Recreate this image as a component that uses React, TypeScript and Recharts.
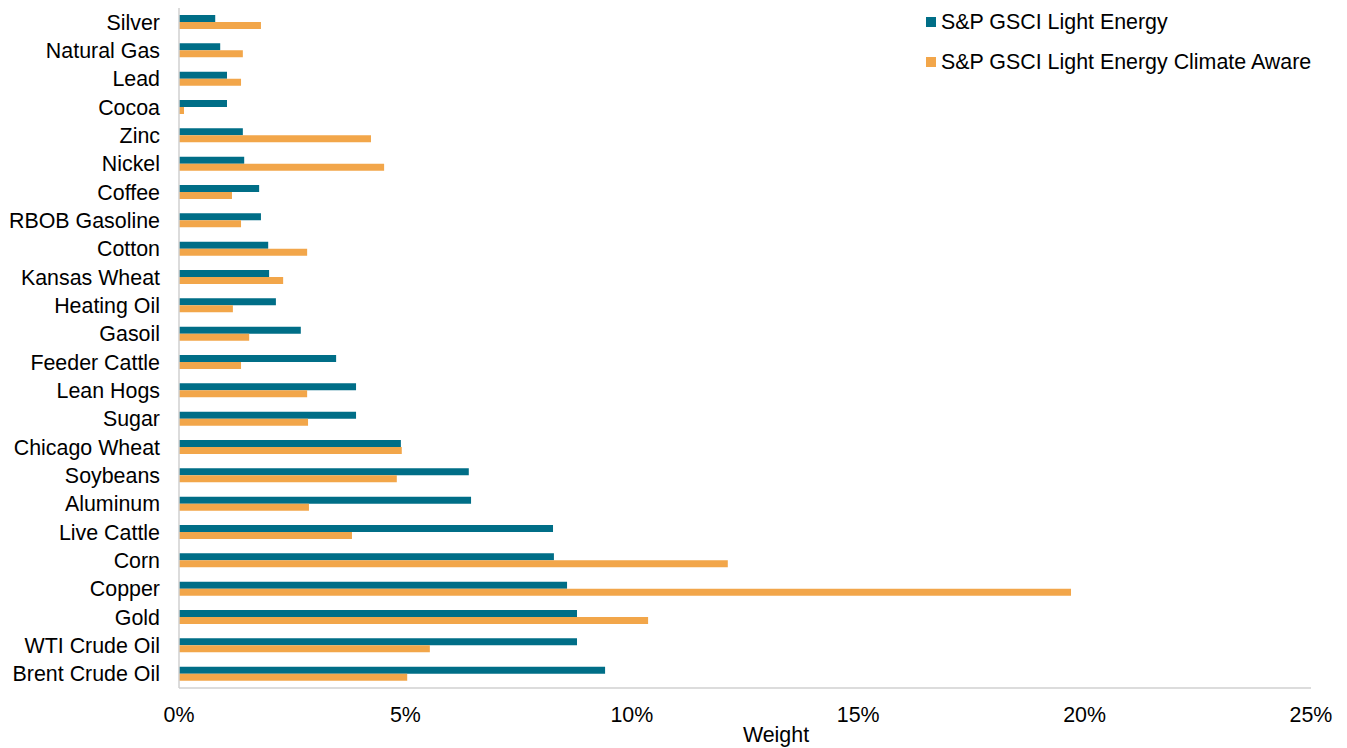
import { BarChart, Bar, XAxis, YAxis, Legend, Label } from "recharts"

const commodities = [
  "Silver", "Natural Gas", "Lead", "Cocoa", "Zinc", "Nickel", "Coffee", "RBOB Gasoline",
  "Cotton", "Kansas Wheat", "Heating Oil", "Gasoil", "Feeder Cattle", "Lean Hogs", "Sugar",
  "Chicago Wheat", "Soybeans", "Aluminum", "Live Cattle", "Corn", "Copper", "Gold",
  "WTI Crude Oil", "Brent Crude Oil",
]

const lightEnergy = [
  0.8, 0.91, 1.06, 1.06, 1.41, 1.44, 1.77, 1.81,
  1.97, 1.99, 2.14, 2.69, 3.47, 3.91, 3.91,
  4.9, 6.4, 6.45, 8.26, 8.28, 8.57, 8.79,
  8.79, 9.41,
]

const climateAware = [
  1.81, 1.41, 1.37, 0.11, 4.24, 4.53, 1.17, 1.37,
  2.83, 2.3, 1.19, 1.55, 1.37, 2.83, 2.85,
  4.92, 4.81, 2.87, 3.82, 12.12, 19.7, 10.36,
  5.54, 5.04,
]

const xTicks = [0, 5, 10, 15, 20, 25]

const seriesNames = ["S&P GSCI Light Energy", "S&P GSCI Light Energy Climate Aware"]
const seriesColors = ["#006E87", "#F2A64A"]

const data = commodities.map((name, i) => ({
  name,
  light: lightEnergy[i],
  climate: climateAware[i],
}))

const font = "'Liberation Sans', Arial, sans-serif"
const fontSize = 21.4
const axisGrey = "#D0D0D0"

function LegendBox() {
  return (
    <div style={{ fontFamily: font, fontSize, color: "#000" }}>
      {seriesNames.map((s, i) => (
        <div key={s} style={{ display: "flex", alignItems: "center", height: 40 }}>
          <span style={{ width: 10, height: 10, background: seriesColors[i], marginRight: 5 }} />
          <span>{s}</span>
        </div>
      ))}
    </div>
  )
}

export default function App() {
  return (
    <div style={{ position: "absolute", left: 0, top: 0, background: "#fff" }}>
      <BarChart
        layout="vertical"
        width={1347}
        height={748}
        data={data}
        margin={{ top: 8, right: 36, bottom: 0, left: 0 }}
        barGap={0}
        style={{ fontFamily: font }}
      >
        <XAxis
          type="number"
          domain={[0, 25]}
          ticks={xTicks}
          tickFormatter={(v) => `${v}%`}
          tick={{ fill: "#000", fontSize }}
          tickLine={false}
          tickSize={0}
          tickMargin={19}
          axisLine={{ stroke: axisGrey, strokeWidth: 1.5 }}
          height={60}
        >
          <Label value="Weight" position="insideBottom" offset={6} dx={31} fill="#000" fontSize={fontSize} />
        </XAxis>
        <YAxis
          type="category"
          dataKey="name"
          width={179}
          interval={0}
          tick={{ fill: "#000", fontSize }}
          tickLine={false}
          tickSize={0}
          tickMargin={19}
          axisLine={{ stroke: axisGrey, strokeWidth: 1.5 }}
        />
        <Legend
          layout="horizontal"
          verticalAlign="middle"
          align="center"
          wrapperStyle={{ top: 2, left: 926, width: 420 }}
          content={() => <LegendBox />}
        />
        <Bar dataKey="light" name={seriesNames[0]} fill={seriesColors[0]} barSize={7} isAnimationActive={false} />
        <Bar dataKey="climate" name={seriesNames[1]} fill={seriesColors[1]} barSize={7} isAnimationActive={false} />
      </BarChart>
    </div>
  )
}
